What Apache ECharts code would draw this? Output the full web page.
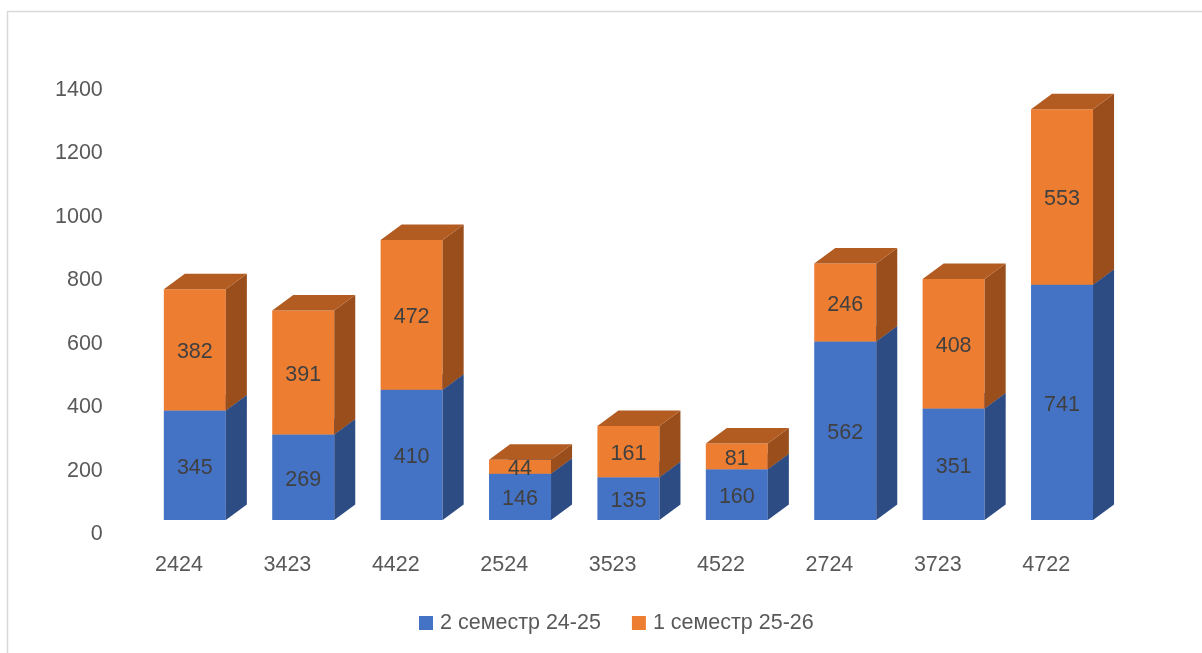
<!DOCTYPE html>
<html>
<head>
<meta charset="utf-8">
<script src="https://cdn.jsdelivr.net/npm/echarts@6/dist/echarts.min.js"></script>
<style>
html,body{margin:0;padding:0;background:#fff;}
#chart{width:1202px;height:653px;}
</style>
</head>
<body>
<div id="chart"></div>
<script>
const categories = ['2424','3423','4422','2524','3523','4522','2724','3723','4722'];
const seriesNames = ['2 семестр 24-25', '1 семестр 25-26'];
const sem2_2425 = [345, 269, 410, 146, 135, 160, 562, 351, 741];
const sem1_2526 = [382, 391, 472, 44, 161, 81, 246, 408, 553];
const yMin = 0, yMax = 1400, yStep = 200;

const FONT = '"Liberation Sans", Arial, sans-serif';
const FS = 21.5;
const faces = [
  { front: '#4472C4', side: '#2D4C84', top: '#3A62A8' },
  { front: '#ED7D31', side: '#9A4E1C', top: '#B35C22' }
];

function makeRender(colors) {
  return function (params, api) {
    const i = api.value(0), base = api.value(1), v = api.value(2);
    const pb = api.coord([i, base]);
    const pt = api.coord([i, base + v]);
    const bw = api.size([1, 0])[0];
    const shiftY = -14.5;
    const cx = pb[0];
    const x0 = cx - 0.14 * bw;
    const x1 = x0 + 0.572 * bw;
    const dx = 0.194 * bw, dy = -15.5;
    const yb = pb[1] + shiftY, yt = pt[1] + shiftY;
    return {
      type: 'group',
      children: [
        { type: 'polygon', shape: { points: [[x0, yb], [x1, yb], [x1, yt], [x0, yt]] }, style: { fill: colors.front } },
        { type: 'polygon', shape: { points: [[x1, yb], [x1 + dx, yb + dy], [x1 + dx, yt + dy], [x1, yt]] }, style: { fill: colors.side } },
        { type: 'polygon', shape: { points: [[x0, yt], [x1, yt], [x1 + dx, yt + dy], [x0 + dx, yt + dy]] }, style: { fill: colors.top } },
        { type: 'text', z2: 10, style: { text: String(v), x: (x0 + x1) / 2, y: (yb + yt) / 2 + 2.5, align: 'center', verticalAlign: 'middle', fill: '#404040', fontSize: FS, fontFamily: FONT } }
      ]
    };
  };
}

const blueData = categories.map((c, i) => [i, 0, sem2_2425[i]]);
const orangeData = categories.map((c, i) => [i, sem2_2425[i], sem1_2526[i]]);

const chart = echarts.init(document.getElementById('chart'), null, { renderer: 'canvas' });
chart.setOption({
  backgroundColor: '#ffffff',
  animation: false,
  graphic: [{
    type: 'rect', silent: true,
    shape: { x: 7.5, y: 11.5, width: 1300, height: 700 },
    style: { fill: 'none', stroke: '#d9d9d9', lineWidth: 1.5 }
  }],
  grid: { left: 124.8, right: 101.6, top: 90, bottom: 118.5, containLabel: false },
  legend: {
    top: 607, left: 414,
    icon: 'rect', itemWidth: 14, itemHeight: 14, itemGap: 31,
    textStyle: { fontSize: FS, color: '#595959', fontFamily: FONT, padding: [0, 0, 0, 2] },
    data: seriesNames
  },
  xAxis: {
    type: 'category', data: categories,
    axisLine: { show: false }, axisTick: { show: false },
    axisLabel: { margin: 20, fontSize: FS, color: '#595959', fontFamily: FONT }
  },
  yAxis: {
    type: 'value', min: yMin, max: yMax, interval: yStep,
    axisLine: { show: false }, axisTick: { show: false }, splitLine: { show: false },
    axisLabel: { margin: 22, fontSize: FS, color: '#595959', fontFamily: FONT, formatter: v => String(v) }
  },
  series: [
    { name: seriesNames[0], type: 'custom', renderItem: makeRender(faces[0]), data: blueData,
      encode: { x: 0, y: [1, 2] }, itemStyle: { color: faces[0].front }, clip: false, z: 2 },
    { name: seriesNames[1], type: 'custom', renderItem: makeRender(faces[1]), data: orangeData,
      encode: { x: 0, y: [1, 2] }, itemStyle: { color: faces[1].front }, clip: false, z: 3 }
  ]
});
</script>
</body>
</html>
